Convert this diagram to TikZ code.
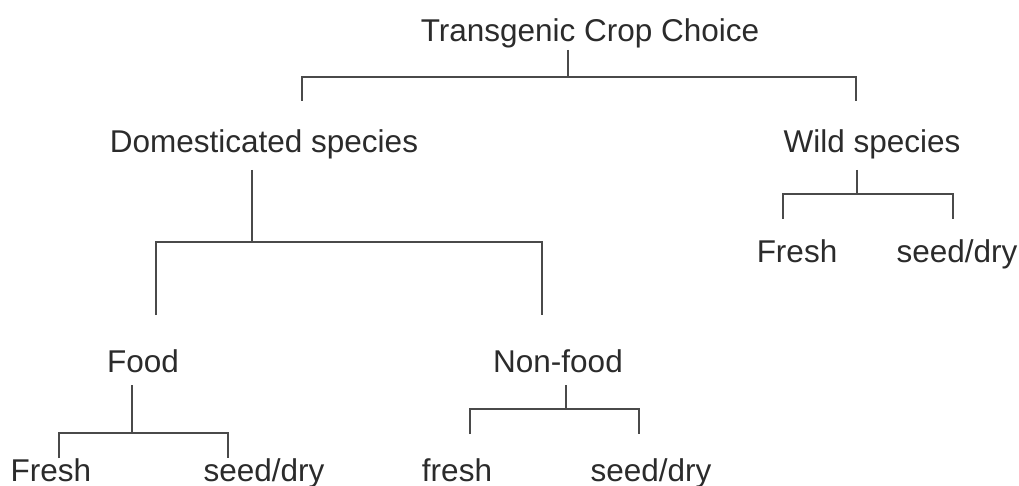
\documentclass[tikz,border=0pt]{standalone}
\usepackage{fontspec}
\setmainfont{Liberation Sans}
\usepackage{xcolor}
\usepackage{tikz}
\usetikzlibrary{positioning, calc}
\definecolor{txtgray}{HTML}{2B2B2B}
\definecolor{linegray}{HTML}{4A4A4A}

\begin{document}
\begin{tikzpicture}[
    x=1pt, y=-1pt,
    lbl/.style={font=\fontsize{31.5}{36}\selectfont, text=txtgray, inner sep=0pt, anchor=base},
    link/.style={draw=linegray, line width=1.8pt}
]
    \useasboundingbox (0,0) rectangle (1019,486);
    % Labels - root and first level
    \node[lbl] (root) at (590,42) {Transgenic Crop Choice};
    \node[lbl] (dom) at (264,153) {Domesticated species};
    \node[lbl] (wild) at (872,153) {Wild species};
    % Second level
    \node[lbl] (food) at (143,372) {Food};
    \node[lbl] (nonfood) at (558,372) {Non-food};
    \node[lbl] (wfresh) at (797,262) {Fresh};
    \node[lbl] (wseed) at (957,262) {seed/dry};
    % Leaves at bottom
    \node[lbl] (ffresh) at (51,481) {Fresh};
    \node[lbl] (fseed) at (264,481) {seed/dry};
    \node[lbl] (nfresh) at (457,481) {fresh};
    \node[lbl] (nseed) at (651,481) {seed/dry};
    % Bracket points (stem top, junction, left/right feet)
    \coordinate (rootS) at (568,50);  \coordinate (rootJ) at (568,77);
    \coordinate (rootL) at (302,101); \coordinate (rootR) at (856,101);
    \coordinate (domS) at (252,170);  \coordinate (domJ) at (252,242);
    \coordinate (domL) at (156,315);  \coordinate (domR) at (542,315);
    \coordinate (wildS) at (857,170); \coordinate (wildJ) at (857,194);
    \coordinate (wildL) at (783,219); \coordinate (wildR) at (953,219);
    \coordinate (foodS) at (132,385); \coordinate (foodJ) at (132,433);
    \coordinate (foodL) at (59,458);  \coordinate (foodR) at (228,458);
    \coordinate (nonS) at (566,385);  \coordinate (nonJ) at (566,409);
    \coordinate (nonL) at (470,434);  \coordinate (nonR) at (639,434);
    % Brackets
    \draw[link] (rootS) -- (rootJ);
    \draw[link] (rootL) |- (rootJ) -| (rootR);
    \draw[link] (domS) -- (domJ);
    \draw[link] (domL) |- (domJ) -| (domR);
    \draw[link] (wildS) -- (wildJ);
    \draw[link] (wildL) |- (wildJ) -| (wildR);
    \draw[link] (foodS) -- (foodJ);
    \draw[link] (foodL) |- (foodJ) -| (foodR);
    \draw[link] (nonS) -- (nonJ);
    \draw[link] (nonL) |- (nonJ) -| (nonR);
\end{tikzpicture}
\end{document}
